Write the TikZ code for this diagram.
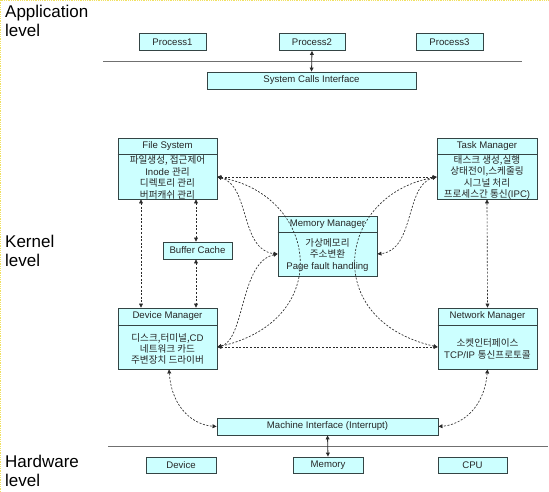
\documentclass[tikz,border=0pt]{standalone}
\usepackage{fontspec}
\setmainfont{Liberation Sans}
\newfontfamily\krfont{Noto Sans CJK KR}
\newcommand\kor[1]{{\krfont #1}}
\usetikzlibrary{arrows.meta}
\definecolor{boxfill}{HTML}{CCFFFF}
\definecolor{boxline}{HTML}{344444}
\definecolor{txt}{HTML}{262626}
\definecolor{arr}{HTML}{2A2A2A}
\definecolor{lvl}{HTML}{707070}
\definecolor{edge}{HTML}{F0E060}
\begin{document}
\begin{tikzpicture}[x=1pt,y=-1pt,
  box/.style={draw=boxline, fill=boxfill, line width=0.85pt, inner sep=0pt,
    font=\fontsize{9.6}{11}\selectfont, text=txt},
  txtnode/.style={inner sep=0pt, font=\fontsize{9.6}{11.4}\selectfont, text=txt, align=center},
  divline/.style={draw=boxline, line width=0.85pt},
  dasharrow/.style={draw=arr, line width=0.65pt, dash pattern=on 2pt off 1.6pt,
    {Triangle[length=4pt,width=3.8pt]}-{Triangle[length=4pt,width=3.8pt]}},
  solidarrow/.style={draw=arr, line width=0.8pt,
    {Triangle[length=4pt,width=3.8pt]}-{Triangle[length=4pt,width=3.8pt]}},
  levelline/.style={draw=lvl, line width=1pt},
  levellabel/.style={font=\fontsize{17}{19}\selectfont, align=left, inner sep=0pt, anchor=north west}
]
\useasboundingbox (0,0) rectangle (549,492);
\fill[white] (0,0) rectangle (549,492);
\draw[edge, line width=0.8pt, densely dotted] (0.5,492) -- (0.5,0.5) -- (549,0.5);

% level labels
\node[levellabel] (lapp) at (5,4.8) {Application\\level};
\node[levellabel] (lker) at (5,234.8) {Kernel\\level};
\node[levellabel] (lhw) at (5,454.8) {Hardware\\level};

% level lines
\draw[levelline] (103,61.5) -- (522,61.5);
\draw[levelline] (108,446) -- (548,446);

% helper coordinates
\coordinate (ya) at (0,177);
\coordinate (yb) at (0,254);
\coordinate (yc) at (0,347);
\coordinate (xa) at (141,0);
\coordinate (xb) at (196,0);
\coordinate (xc) at (169,0);
\coordinate (divA) at (0,154);
\coordinate (divB) at (0,232);
\coordinate (divC) at (0,325);

% application level
\node[box, minimum width=67pt, minimum height=17pt] (p1) at (172.5,42) {Process1};
\node[box, minimum width=66pt, minimum height=17pt] (p2) at (312,42) {Process2};
\node[box, minimum width=67pt, minimum height=17pt] (p3) at (449.5,42) {Process3};
\node[box, minimum width=209pt, minimum height=17pt] (sci) at (311.5,80.5) {System Calls Interface};

% kernel level boxes
\node[box, minimum width=99pt, minimum height=61pt] (fs) at (167.5,168.5) {};
\draw[divline] (fs.west |- divA) -- (fs.east |- divA);
\node[txtnode] (fsh) at (167.5,146.5) {File System};
\node[txtnode] (fsb) at (167.5,177.5) {\kor{파일생성, 접근제어}\\Inode \kor{관리}\\\kor{디렉토리 관리}\\\kor{버퍼캐쉬 관리}};

\node[box, minimum width=100pt, minimum height=61pt] (tm) at (487,168.5) {};
\draw[divline] (tm.west |- divA) -- (tm.east |- divA);
\node[txtnode] (tmh) at (487,146.5) {Task Manager};
\node[txtnode] (tmb) at (487,177.5) {\kor{태스크 생성,실행}\\\kor{상태전이,스케줄링}\\\kor{시그널 처리}\\\kor{프로세스간 통신}(IPC)};

\node[box, minimum width=69pt, minimum height=17pt] (bc) at (197.5,250.5) {Buffer Cache};

\node[box, minimum width=99pt, minimum height=60pt] (mm) at (327.5,246) {};
\draw[divline] (mm.west |- divB) -- (mm.east |- divB);
\node[txtnode] (mmh) at (327.5,224.5) {Memory Manager};
\node[txtnode] (mmb) at (327.5,255) {\kor{가상메모리}\\\kor{주소변환}\\Page fault handling};

\node[box, minimum width=99pt, minimum height=61pt] (dm) at (167.5,338.5) {};
\draw[divline] (dm.west |- divC) -- (dm.east |- divC);
\node[txtnode] (dmh) at (167.5,316.5) {Device Manager};
\node[txtnode] (dmb) at (167.5,349) {\kor{디스크,터미널,}CD\\\kor{네트워크 카드}\\\kor{주변장치 드라이버}};

\node[box, minimum width=99pt, minimum height=61pt] (nm) at (487.5,338.5) {};
\draw[divline] (nm.west |- divC) -- (nm.east |- divC);
\node[txtnode] (nmh) at (487.5,316.5) {Network Manager};
\node[txtnode] (nmb) at (487.5,349) {\kor{소켓인터페이스}\\TCP/IP \kor{통신프로토콜}};

\node[box, minimum width=221pt, minimum height=17pt] (mi) at (327.5,426.5) {Machine Interface (Interrupt)};

% hardware level
\node[box, minimum width=70pt, minimum height=16pt] (dev) at (181,465) {Device};
\node[box, minimum width=70pt, minimum height=16pt] (mem) at (328,465) {Memory};
\node[box, minimum width=69pt, minimum height=16pt] (cpu) at (472.5,465) {CPU};

% connectors
\draw[solidarrow] (p2.south) -- (sci.north);
\draw[solidarrow] (mi.south) -- (mem.north);

\draw[dasharrow] (fs.east |- ya) -- (tm.west |- ya);
\draw[dasharrow] (dm.east |- yc) -- (nm.west |- yc);
\draw[dasharrow] (fs.south -| xa) -- (dm.north -| xa);
\draw[dasharrow] (fs.south -| xb) -- (bc.north -| xb);
\draw[dasharrow] (bc.south -| xb) -- (dm.north -| xb);
\draw[dasharrow] (tm.south) -- (nm.north);

% curves around the memory manager
\draw[dasharrow] (fs.east |- ya) .. controls (250,185) and (240,250) .. (mm.west |- yb);
\draw[dasharrow] (dm.east |- yc) .. controls (245,340) and (240,262) .. (mm.west |- yb);
\draw[dasharrow] (fs.east |- ya) .. controls (318,195) and (335,320) .. (dm.east |- yc);
\draw[dasharrow] (tm.west |- ya) .. controls (405,185) and (415,250) .. (mm.east |- yb);
\draw[dasharrow] (tm.west |- ya) .. controls (337,195) and (320,320) .. (nm.west |- yc);

% curves to the machine interface
\draw[dasharrow] (dm.south -| xc) .. controls (172,410) and (195,425) .. (mi.west);
\draw[dasharrow] (nm.south) .. controls (484,410) and (460,425) .. (mi.east);
\end{tikzpicture}
\end{document}
